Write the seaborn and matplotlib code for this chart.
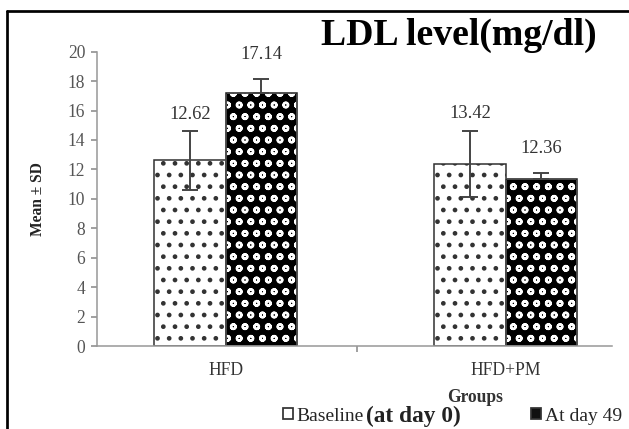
import matplotlib.pyplot as plt
import matplotlib.lines as mlines
from matplotlib.patches import Patch, Rectangle
import pandas as pd
import seaborn as sns

# values
groups = ["HFD", "HFD+PM"]
periods = ["Baseline", "At day 49"]
baseline_mean = [12.62, 12.35]
day49_mean = [17.2, 11.35]
baseline_sd = [2.0, 2.25]
day49_sd = [0.97, 0.42]
baseline_labels = ["12.62", "13.42"]
day49_labels = ["17.14", "12.36"]

df = pd.DataFrame({
    "group": groups * 2,
    "period": [periods[0]] * len(groups) + [periods[1]] * len(groups),
    "value": baseline_mean + day49_mean,
})
sds = [baseline_sd, day49_sd]
texts = [baseline_labels, day49_labels]
label_y = [[15.7, 15.8], [19.8, 13.4]]

sns.set_theme(style="white")
plt.rcParams["font.family"] = ["Liberation Serif", "DejaVu Serif"]
plt.rcParams["hatch.linewidth"] = 1.2

dpi = 140
fig = plt.figure(figsize=(629 / dpi, 429 / dpi), dpi=dpi)
ax = fig.add_axes([97 / 629, 1 - 346 / 429, 515 / 629, 294.3 / 429])

sns.barplot(data=df, x="group", y="value", hue="period", order=groups,
            hue_order=periods, palette=["white", "black"], saturation=1,
            width=0.51, gap=0, errorbar=None, legend=False, ax=ax)

styles = [dict(fc="white", ec="#333333", hatch=".."),
          dict(fc="black", ec="white", hatch="oo")]
bar_containers = list(ax.containers)
for i, cont in enumerate(bar_containers):
    for j, bar in enumerate(cont):
        bar.set_facecolor(styles[i]["fc"])
        bar.set_edgecolor(styles[i]["ec"])
        bar.set_hatch(styles[i]["hatch"])
        bar.set_linewidth(0.8)
        xc = bar.get_x() + bar.get_width() / 2
        if i == 1:
            ax.add_patch(Rectangle(bar.get_xy(), bar.get_width(), bar.get_height(),
                                   fill=False, ec="#222222", lw=0.8, zorder=2.5))
            yerr = [[0], [sds[i][j]]]
        else:
            yerr = sds[i][j]
        ax.errorbar(xc, bar.get_height(), yerr=yerr, color="#444444",
                    lw=1.0, capsize=4, capthick=1.0, zorder=3)
        ax.text(xc, label_y[i][j], texts[i][j], ha="center", va="center",
                fontsize=9.5, color="#333333")

ax.set_ylim(0, 20)
ax.set_xlim(-0.46, 1.38)
ax.set_yticks(range(0, 21, 2))
ax.tick_params(axis="y", length=3, width=0.8, color="#888888", pad=3,
               labelsize=9, labelcolor="#555555", left=True)
ax.set_xticks([0, 1])
ax.set_xticklabels(groups)
ax.set_xticks([0.47], minor=True)
ax.tick_params(axis="x", which="major", length=0, pad=8, labelsize=9,
               labelcolor="#333333")
ax.tick_params(axis="x", which="minor", length=3, width=0.8, color="#888888",
               bottom=True)
for side in ["top", "right"]:
    ax.spines[side].set_visible(False)
for side in ["left", "bottom"]:
    ax.spines[side].set_color("#999999")
    ax.spines[side].set_linewidth(0.8)

ax.set_ylabel("Mean \u00b1 SD", fontsize=8, fontweight="bold", color="#222222")
ax.yaxis.set_label_coords(-0.099, 0.5)
ax.set_xlabel("Groups", fontsize=9, fontweight="bold", color="#333333")
ax.xaxis.set_label_coords(0.734, -0.146)

fig.text(597 / 629, 1 - 35 / 429, "LDL level(mg/dl)", ha="right", va="center",
         fontsize=19.4, fontweight="bold", color="black")

handles = [Patch(fc="white", ec="#333333", lw=0.9),
           Patch(fc="#111111", ec="#333333", lw=0.9)]
leg = fig.legend(handles, periods, loc="center left",
                 bbox_to_anchor=(283 / 629, 1 - 416 / 429), ncol=2,
                 frameon=False, fontsize=10, handlelength=0.5,
                 handleheight=0.5, handletextpad=0.2, columnspacing=8.6,
                 borderpad=0, borderaxespad=0)
fig.canvas.draw()
bb = leg.get_texts()[0].get_window_extent()
x0, y0 = fig.transFigure.inverted().transform((bb.x1 + 2, (bb.y0 + bb.y1) / 2))
fig.text(x0, y0, "(at day 0)", ha="left", va="center", fontsize=12,
         fontweight="bold", color="#222222")

# frame of the original picture (left and top edges)
fig.add_artist(mlines.Line2D([7 / 629, 7 / 629], [0, 1 - 11 / 429],
                             transform=fig.transFigure, color="black", lw=1.4))
fig.add_artist(mlines.Line2D([7 / 629, 1], [1 - 11 / 429, 1 - 11 / 429],
                             transform=fig.transFigure, color="black", lw=1.4))

fig.savefig("out.png", dpi=dpi)
